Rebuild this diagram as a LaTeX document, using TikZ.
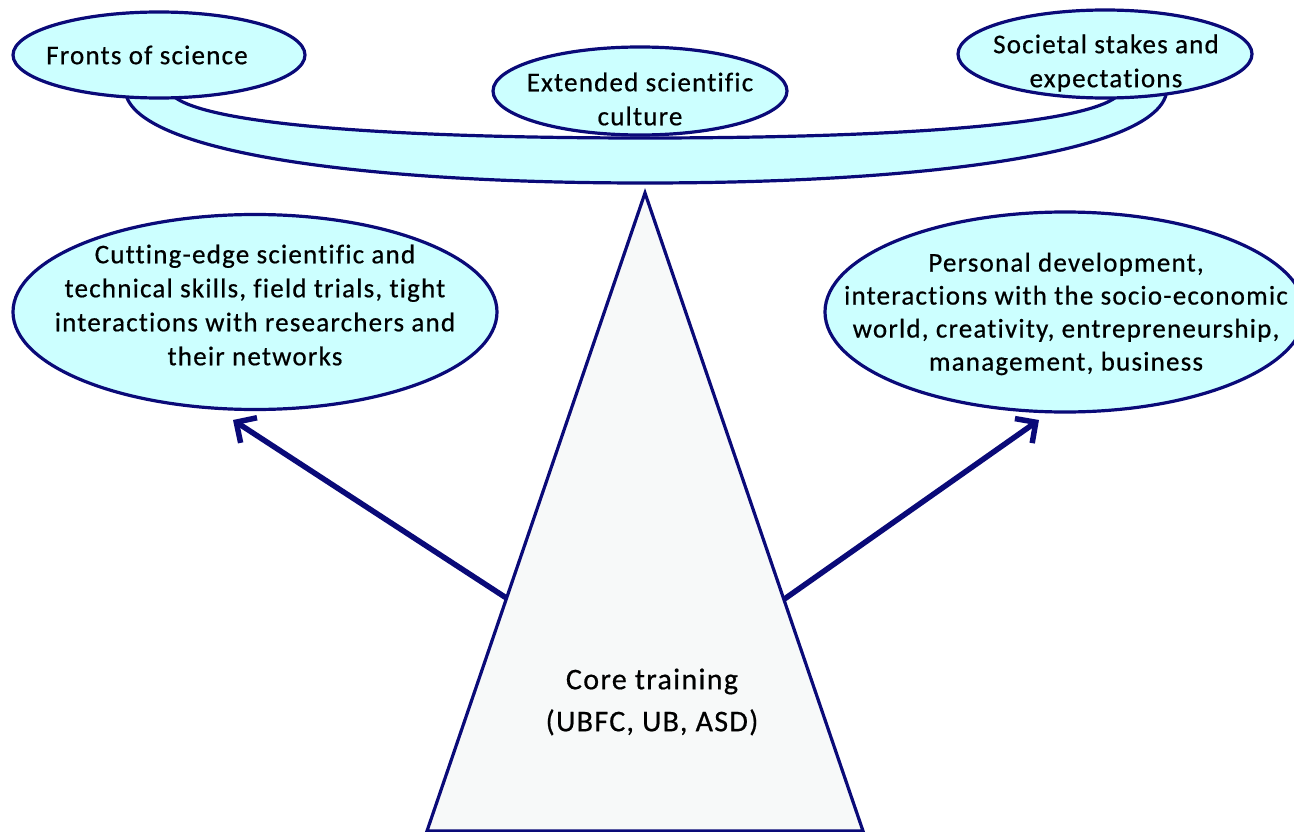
\documentclass[tikz,border=0pt]{standalone}
\usepackage{fontspec}
\setmainfont{Carlito}[LetterSpace=4.5,Ligatures={NoCommon},FakeBold=0.6]
\usetikzlibrary{arrows.meta,shapes.geometric,calc}
\definecolor{navy}{HTML}{0A0A78}
\definecolor{cyanfill}{HTML}{CCFFFF}
\definecolor{trifill}{HTML}{F7F9F9}
\begin{document}
\begin{tikzpicture}[x=1pt,y=-1pt,
  ell/.style={ellipse,draw=navy,fill=cyanfill,line width=3.2pt,inner sep=0pt},
  txt/.style={align=center,inner sep=0pt,font=\fontsize{27}{34}\selectfont},
  band/.style={draw=navy,fill=cyanfill,line width=3.2pt},
  tri/.style={draw=navy,fill=trifill,line width=3.2pt,line join=miter},
  arr/.style={draw=navy,line width=5.5pt,-{Straight Barb[length=15pt,width=30pt,line width=5.5pt]}}]
\useasboundingbox (0,0) rectangle (1294,832);
% connecting band
\path[band] (125,88) .. controls (125,150) and (350,183) .. (645,183)
  .. controls (940,183) and (1167,150) .. (1167,88) -- (1123,88)
  .. controls (1115,125) and (890,138) .. (645,138)
  .. controls (400,138) and (175,125) .. (168,88) -- cycle;
% top ellipses
\node[ell,minimum width=292pt,minimum height=86pt] (front) at (159,55) {};
\node[txt] (frontT) at (147,55) {Fronts of science};
\node[ell,minimum width=294pt,minimum height=88pt] (culture) at (640,91) {};
\node[txt] (cultureT) at (640,99) {Extended scientific\\culture};
\node[ell,minimum width=294pt,minimum height=88pt] (societal) at (1105,54) {};
\node[txt] (societalT) at (1106,63) {Societal stakes and\\expectations};
% side ellipses
\node[ell,minimum width=484pt,minimum height=195pt] (skills) at (255,312) {};
\node[txt] (skillsT) at (255,305) {Cutting-edge scientific and\\technical skills, field trials, tight\\interactions with researchers and\\their networks};
\node[ell,minimum width=480pt,minimum height=200pt] (personal) at (1065,312) {};
\node[txt,font=\fontsize{27}{33}\selectfont] (personalT) at (1066,314) {Personal development,\\interactions with the socio-economic\\world, creativity, entrepreneurship,\\management, business};
% triangle
\coordinate (apex) at (645,193);
\coordinate (bl) at (427,831);
\coordinate (br) at (863,831);
\path[tri] (apex) -- (bl) -- (br) -- cycle;
\node[txt,font=\fontsize{30}{42}\selectfont] (core) at (652,702) {Core training\\(UBFC, UB, ASD)};
% arrows
\coordinate (sL) at ($(apex)!0.635!(bl)$);
\coordinate (sR) at ($(apex)!0.637!(br)$);
\coordinate (eL) at (233,420);
\coordinate (eR) at (1039,420);
\draw[arr] (sL) -- (eL);
\draw[arr] (sR) -- (eR);
\end{tikzpicture}
\end{document}
